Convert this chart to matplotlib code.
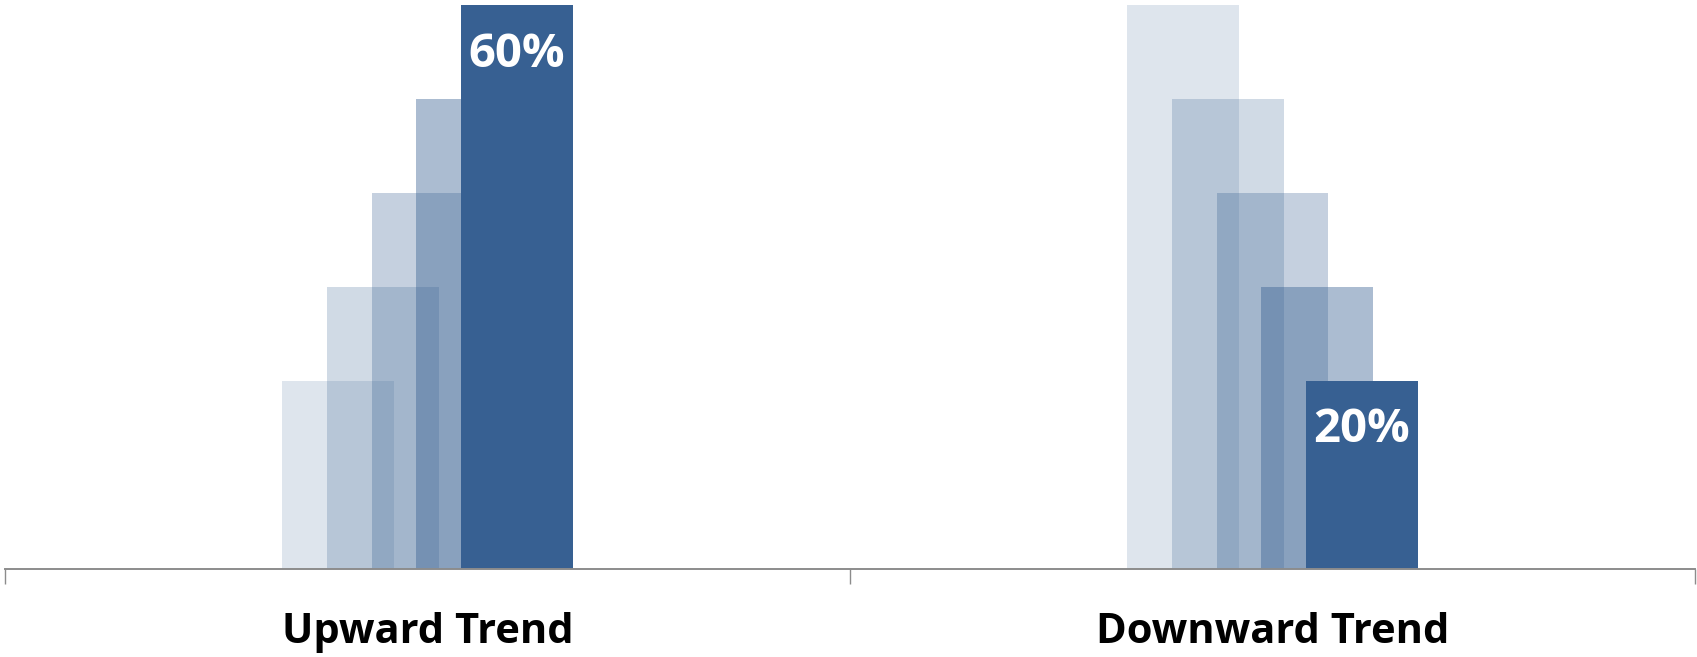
import matplotlib
matplotlib.use("Agg")
import matplotlib.pyplot as plt
import numpy as np

# dados
categorias = ['Upward Trend', 'Downward Trend']
serie1 = [20, 60]
serie2 = [30, 50]
serie3 = [40, 40]
serie4 = [50, 30]
serie5 = [60, 20]
series = [serie1, serie2, serie3, serie4, serie5]

cor_base = '#376092'
alfas = [0.16, 0.23, 0.29, 0.42, 1.0]

plt.rcParams['font.family'] = ['Open Sans', 'DejaVu Sans']

fig = plt.figure(figsize=(16.97, 6.57), dpi=100)
ax = fig.add_axes([5 / 1697, 88 / 657, 1690 / 1697, (569 - 5.4) / 657])

centros = np.arange(len(categorias)) + 0.5
largura = 0.132
passo = 0.0528

for i, valores in enumerate(series):
    xs = centros + (i - 2) * passo
    barras = ax.bar(xs, valores, width=largura, color=cor_base, alpha=alfas[i],
                    linewidth=0, zorder=2 + i)
    if i == len(series) - 1:
        for b, v in zip(barras, valores):
            ax.annotate(f'{v}%', (b.get_x() + b.get_width() / 2, v),
                        xytext=(0, -35), textcoords='offset points',
                        ha='center', va='center', color='white',
                        fontsize=34, fontweight='bold', zorder=10)

ax.set_xlim(0, 2)
ax.set_ylim(0, 60)

for lado in ['top', 'right', 'left']:
    ax.spines[lado].set_visible(False)
ax.spines['bottom'].set_color('#8c8c8c')
ax.spines['bottom'].set_linewidth(1.4)
ax.spines['bottom'].set_zorder(20)

ax.set_yticks([])
ax.set_xticks([0, 1, 2])
ax.set_xticklabels([])
ax.tick_params(axis='x', which='major', direction='out', length=11,
               width=1, color='#8c8c8c')
ax.set_xticks(centros, minor=True)
ax.set_xticklabels(categorias, minor=True)
ax.tick_params(axis='x', which='minor', length=0, pad=31, labelsize=30)
for t in ax.get_xticklabels(minor=True):
    t.set_fontweight('bold')

fig.savefig('out.png', dpi=100)
